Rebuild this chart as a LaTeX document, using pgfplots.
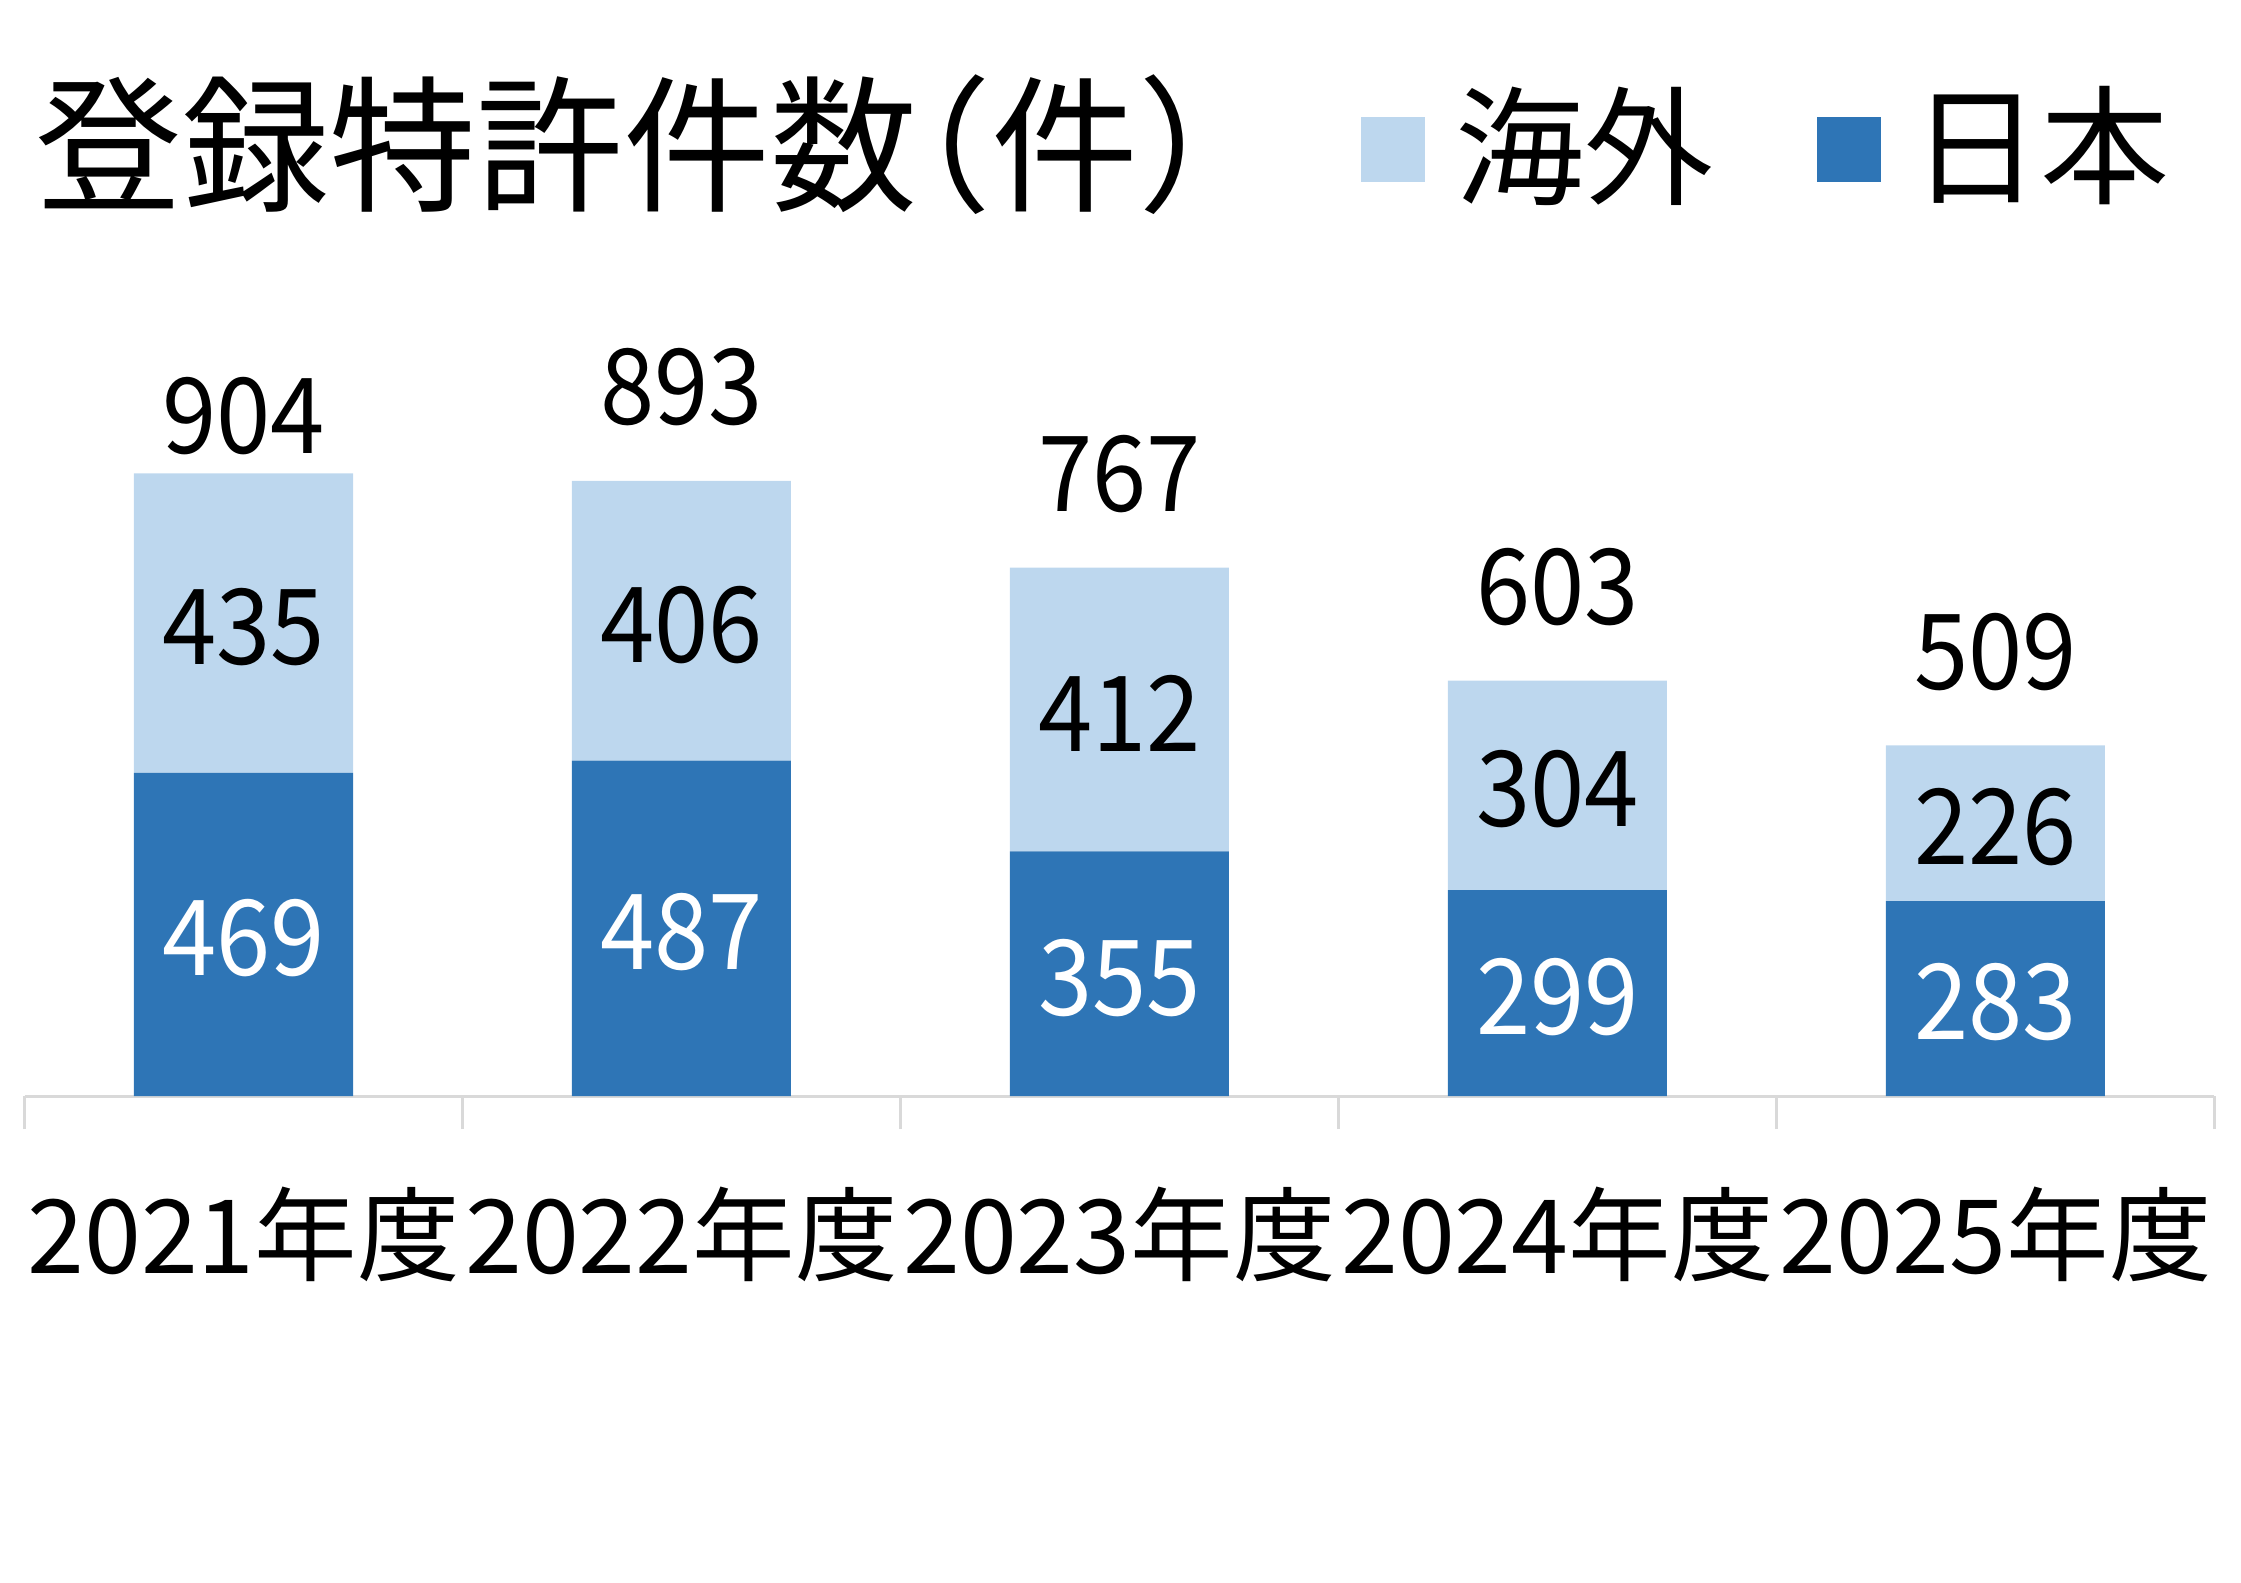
\documentclass[border=0pt]{standalone}
\usepackage{fontspec}
\setmainfont{Noto Sans CJK JP}
\newfontfamily\numfont{Noto Sans CJK JP}[FakeStretch=0.93]
\usepackage{pgfplots}
\usepackage{pgfplotstable}
\pgfplotsset{compat=1.18}
\definecolor{jpblue}{HTML}{2E75B6}
\definecolor{oslight}{HTML}{BDD7EE}
\definecolor{axgray}{HTML}{D9D9D9}
\pgfplotstableread{
x jp os total
0 469 435 904
1 487 406 893
2 355 412 767
3 299 304 603
4 283 226 509
}\patents
\begin{document}
\begin{tikzpicture}
\useasboundingbox (-4.9pt,-97.4pt) rectangle (443.3pt,219.2pt);
\begin{axis}[
  at={(0pt,0pt)}, anchor=south west,
  scale only axis,
  width=438pt, height=165.31pt,
  xmin=-0.5, xmax=4.5, ymin=0, ymax=1200,
  enlargelimits=false,
  clip=false,
  ybar stacked, bar width=43.8pt,
  axis x line*=bottom, axis y line=none,
  x axis line style={-, draw=axgray, line width=0.6pt},
  ytick=\empty,
  xtick={0,1,2,3,4},
  xticklabels={2021年度,2022年度,2023年度,2024年度,2025年度},
  major tick length=0pt,
  major x tick style={draw=none},
  minor xtick={-0.5,0.5,1.5,2.5,3.5,4.5},
  minor tick length=6.6pt,
  xtick align=outside,
  minor x tick style={draw=axgray, line width=0.6pt},
  xticklabel style={anchor=base, yshift=-35.4pt, inner sep=0pt, font=\fontsize{20.5pt}{20.5pt}\selectfont},
  legend columns=2,
  reverse legend,
  legend image code/.code={\fill[#1] (0pt,-7.5pt) rectangle (12.8pt,5.5pt); \path (18.9pt,0pt);},
  legend style={at={(axis description cs:0.6103,1.1511)}, anchor=west, draw=none, fill=none, inner sep=0pt, outer sep=0pt,
    font=\fontsize{25.8pt}{25.8pt}\selectfont, nodes={inner sep=0pt},
    /tikz/every even column/.append style={column sep=20.6pt}},
]
\addplot[fill=jpblue, draw=none,
  point meta=explicit symbolic,
  nodes near coords={\pgfplotspointmeta},
  nodes near coords style={text=white, anchor=center, inner sep=0pt, yshift=-0.8pt, font=\numfont\fontsize{21pt}{21pt}\selectfont}]
  table[x=x, y=jp, meta=jp] {\patents};
\addlegendentry{日本}
\addplot[fill=oslight, draw=none,
  point meta=explicit symbolic,
  nodes near coords={\pgfplotspointmeta},
  nodes near coords style={text=black, anchor=center, inner sep=0pt, yshift=-0.8pt, font=\numfont\fontsize{21pt}{21pt}\selectfont}]
  table[x=x, y=os, meta=os] {\patents};
\addlegendentry{海外}
\end{axis}
\begin{axis}[
  at={(0pt,0pt)}, anchor=south west,
  scale only axis,
  width=438pt, height=165.31pt,
  xmin=-0.5, xmax=4.5, ymin=0, ymax=1200,
  enlargelimits=false,
  clip=false,
  hide axis,
  ybar, bar width=43.8pt, bar shift=0pt,
]
\addplot[fill=none, draw=none,
  skip coords between index={1}{5},
  point meta=explicit symbolic,
  nodes near coords={\pgfplotspointmeta},
  nodes near coords style={text=black, anchor=south, inner sep=0pt, font=\numfont\fontsize{21pt}{21pt}\selectfont, yshift=3.4pt}]
  table[x=x, y=total, meta=total] {\patents};
\addplot[fill=none, draw=none,
  skip coords between index={0}{1},
  point meta=explicit symbolic,
  nodes near coords={\pgfplotspointmeta},
  nodes near coords style={text=black, anchor=south, inner sep=0pt, font=\numfont\fontsize{21pt}{21pt}\selectfont, yshift=10.8pt}]
  table[x=x, y=total, meta=total] {\patents};
\end{axis}
\node[anchor=base west, inner sep=0pt, font=\fontsize{29.4pt}{29.4pt}\selectfont] at (2.1pt,179.2pt) {登録特許件数\kern-0.5em（件）};
\end{tikzpicture}
\end{document}
